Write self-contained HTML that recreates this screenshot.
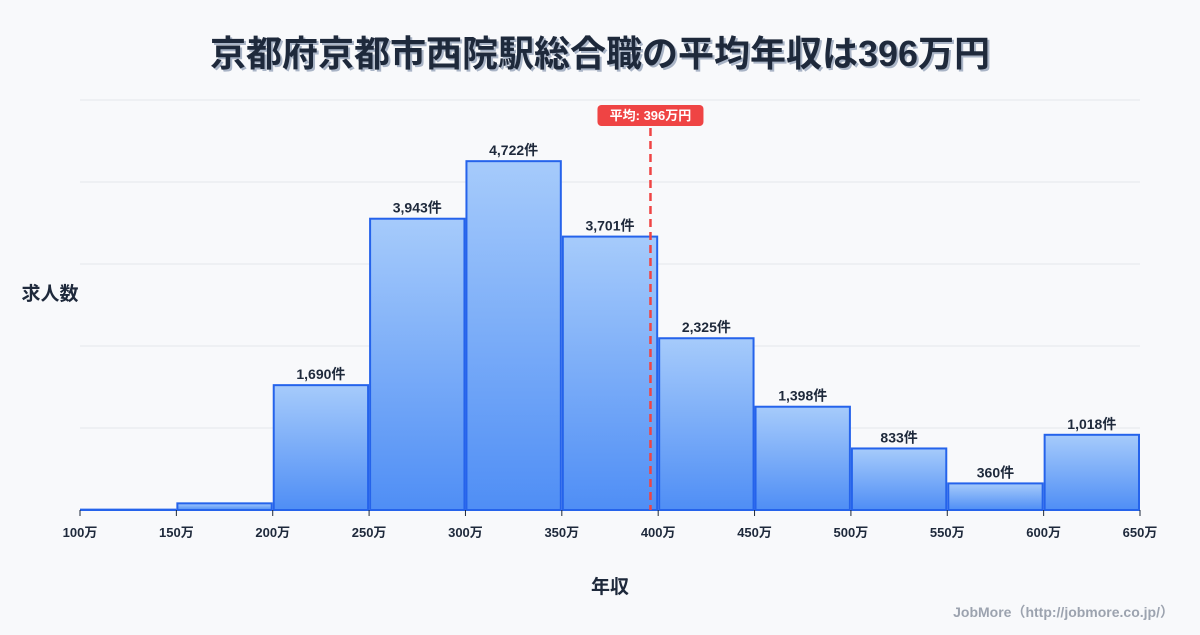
<!DOCTYPE html>
<html><head><meta charset="utf-8"><style>
body{margin:0;background:#f8f9fb;}
svg text{font-family:"Liberation Sans","Noto Sans CJK JP",sans-serif;}
</style></head><body>
<svg id="chart" width="1200" height="630" xmlns="http://www.w3.org/2000/svg">
<defs><linearGradient id="g" x1="0" y1="0" x2="0" y2="1"><stop offset="0" stop-color="#a6cbfb"/><stop offset="1" stop-color="#4f8ef5"/></linearGradient></defs>
<text x="602" y="68" text-anchor="middle" font-size="36" font-weight="bold" fill="#a9b4c6">京都府京都市西院駅総合職の平均年収は396万円</text>
<text x="600" y="66" text-anchor="middle" font-size="36" font-weight="bold" fill="#1e293b">京都府京都市西院駅総合職の平均年収は396万円</text>
<text x="50" y="300" text-anchor="middle" font-size="19" font-weight="bold" fill="#1e293b">求人数</text>
<text x="610" y="593" text-anchor="middle" font-size="19" font-weight="bold" fill="#1e293b">年収</text>
<text x="1174" y="617" text-anchor="end" font-size="14" font-weight="bold" fill="#9ca3af">JobMore（http://jobmore.co.jp/）</text>
<g id="grid"></g><g id="bars"></g><g id="axis"></g><g id="mean"></g>
</svg>
<script>
const binEdges=[100,150,200,250,300,350,400,450,500,550,600,650];
const counts=[5,90,1690,3943,4722,3701,2325,1398,833,360,1018];
const labels=["","","1,690件","3,943件","4,722件","3,701件","2,325件","1,398件","833件","360件","1,018件"];
const gridValues=[0,1110,2220,3330,4440,5550];
const meanValue=396;
const NS="http://www.w3.org/2000/svg";
const X0=80,X1=1140,Y0=510,Y1=100,xmin=100,xmax=650,ymax=5550;
const xs=v=>X0+(v-xmin)/(xmax-xmin)*(X1-X0);
const ys=v=>Y0-v/ymax*(Y0-Y1);
function mk(t,a,p){const e=document.createElementNS(NS,t);for(const k in a)e.setAttribute(k,a[k]);p.appendChild(e);return e;}
const grid=document.getElementById('grid'),bars=document.getElementById('bars'),axis=document.getElementById('axis'),mean=document.getElementById('mean');
gridValues.forEach(v=>{const l=mk('line',{x1:X0,x2:X1,y1:ys(v),y2:ys(v),stroke:'#e5e7eb','stroke-width':1},grid);

});
counts.forEach((c,i)=>{const x=xs(binEdges[i])+1,w=xs(binEdges[i+1])-xs(binEdges[i])-2,y=ys(c);
const r=mk('rect',{x:x,y:y,width:w,height:Y0-y,fill:'url(#g)',stroke:'#2563eb','stroke-width':2},bars);


if(labels[i]){const t=mk('text',{x:x+w/2,y:y-6,'text-anchor':'middle','font-size':14,'font-weight':'bold',fill:'#1e293b'},bars);t.textContent=labels[i];

}});
binEdges.forEach(v=>{const x=xs(v);mk('line',{x1:x,x2:x,y1:Y0,y2:Y0+6,stroke:'#1e293b','stroke-width':1},axis);
const t=mk('text',{x:x,y:Y0+27,'text-anchor':'middle','font-size':13,'font-weight':'bold',fill:'#1e293b'},axis);t.textContent=v+'万';

});
const mx=xs(meanValue);
const ml=mk('line',{x1:mx,x2:mx,y1:128,y2:Y0,stroke:'#ef4444','stroke-width':2.5,'stroke-dasharray':'8,5'},mean);


const mb=mk('rect',{x:mx-53,y:105,width:106,height:21,rx:4,fill:'#ef4444'},mean);


const mt=mk('text',{x:mx,y:120,'text-anchor':'middle','font-size':13,'font-weight':'bold',fill:'#fff'},mean);mt.textContent='平均: '+meanValue+'万円';


</script>
</body></html>
